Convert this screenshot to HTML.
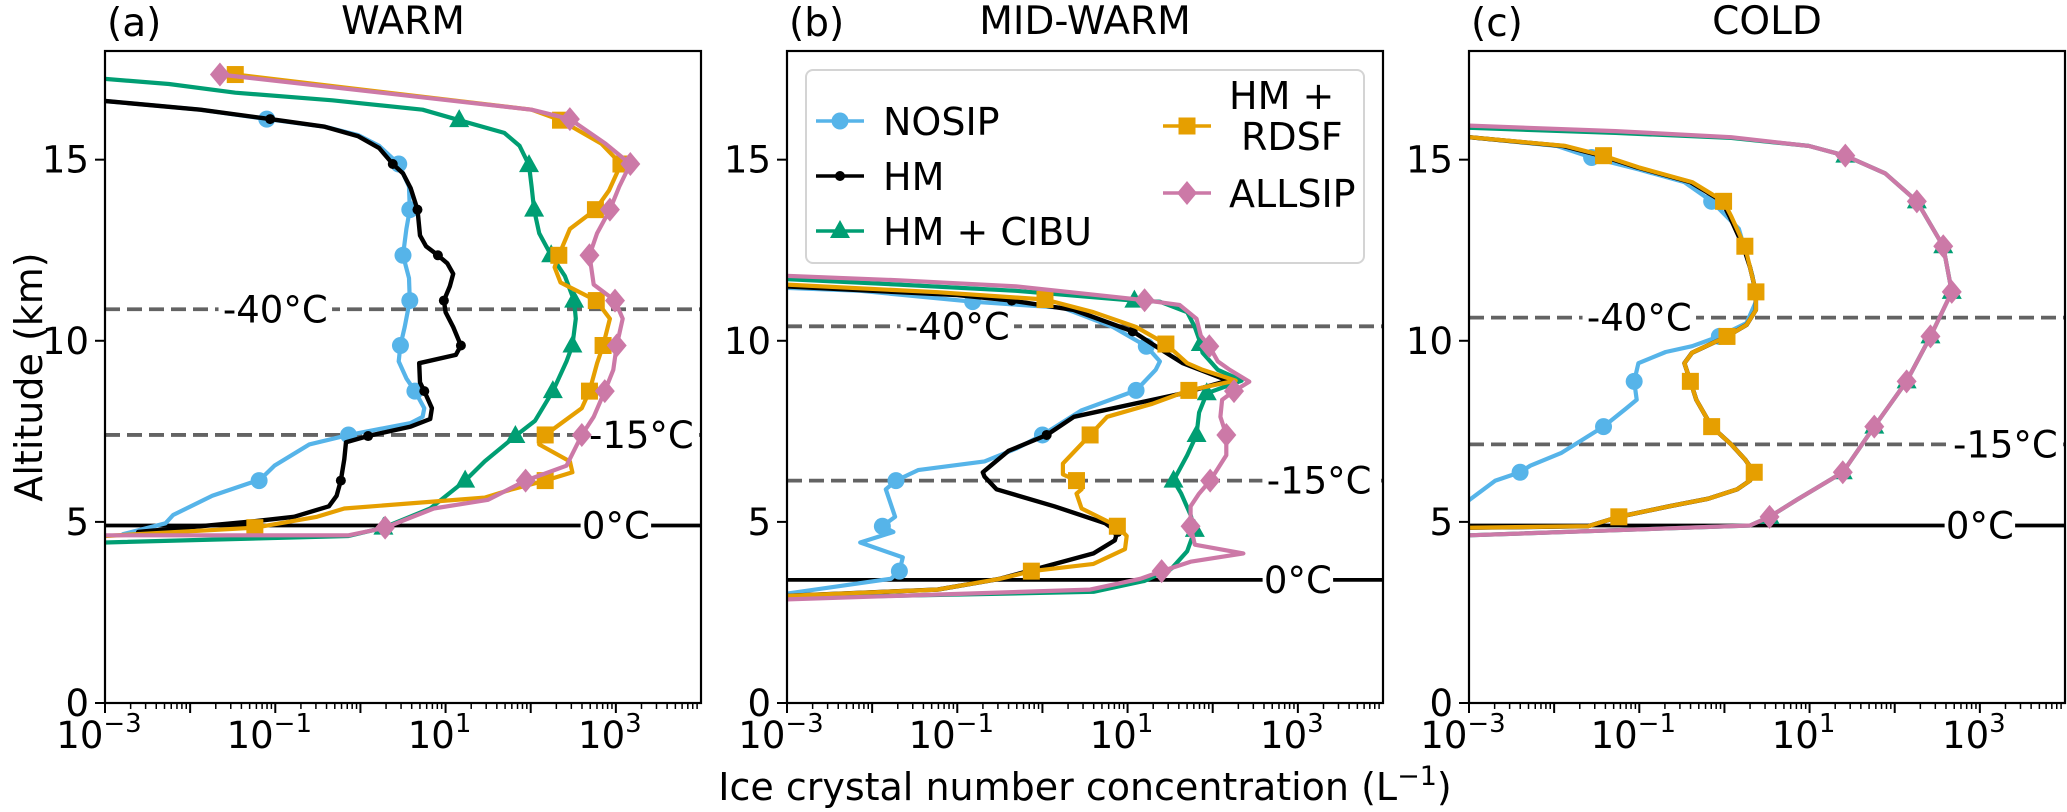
<!DOCTYPE html>
<html><head><meta charset="utf-8">
<style>
html,body{margin:0;padding:0;background:#fff;}
svg{display:block;font-family:"DejaVu Sans","Liberation Sans",sans-serif;}
</style></head>
<body>
<svg id="fig" width="2067" height="812" viewBox="0 0 2067 812" xmlns="http://www.w3.org/2000/svg">
<text x="0" y="0" font-size="38" text-anchor="middle" transform="translate(42,377) rotate(-90)">Altitude (km)</text>
<text x="1085" y="800" font-size="38" text-anchor="middle">Ice crystal number concentration (L<tspan dy="-15" font-size="27">−1</tspan><tspan dy="15">)</tspan></text>
</svg>
<script>
// ---- data (x values are log10 of concentration, y are altitude km) ----
const panelTitles = ["WARM", "MID-WARM", "COLD"];
const panelLetters = ["(a)", "(b)", "(c)"];
const xTickExps = [-3, -1, 1, 3];
const yTicks = [0, 5, 10, 15];
const seriesNames = ["NOSIP", "HM", "HM + CIBU", "HM + RDSF", "ALLSIP"];

// panel a
const aNosipX = [-2.79,-2.29,-2.20,-1.74,-1.29,-1.19,-1.01,-0.60,-0.14,0.59,0.73,0.75,0.64,0.54,0.45,0.47,0.52,0.58,0.57,0.50,0.54,0.58,0.57,0.45,0.22,-0.03,-0.42,-1.10,-1.88,-3.0];
const aNosipY = [4.66,4.96,5.19,5.72,6.08,6.14,6.55,7.14,7.40,7.73,7.90,8.14,8.61,8.96,9.43,9.87,10.38,11.11,11.73,12.36,13.09,13.62,14.26,14.88,15.38,15.68,15.91,16.12,16.38,16.62];
const aHmX = [-2.61,-1.24,-0.78,-0.37,-0.28,-0.23,-0.19,-0.17,0.09,0.59,0.82,0.84,0.75,0.70,0.69,1.12,1.18,1.09,1.00,0.98,1.05,1.09,1.02,0.91,0.77,0.70,0.67,0.59,0.50,0.38,0.22,-0.03,-0.42,-1.06,-1.88,-3.0];
const aHmY = [4.72,5.02,5.14,5.43,5.72,6.14,6.73,7.20,7.37,7.63,7.84,8.14,8.61,8.85,9.38,9.61,9.87,10.38,10.79,11.11,11.50,11.85,12.14,12.36,12.61,12.91,13.62,14.21,14.62,14.88,15.32,15.65,15.91,16.12,16.38,16.62];
const aCibuX = [-3.0,-0.14,0.27,0.82,1.23,1.46,1.82,2.05,2.26,2.42,2.49,2.53,2.51,2.40,2.24,2.10,2.04,2.01,1.98,1.87,1.69,1.16,0.73,-0.33,-1.47,-2.25,-3.0];
const aCibuY = [4.43,4.61,4.84,5.37,6.14,6.67,7.37,7.79,8.61,9.43,9.87,10.61,11.11,11.79,12.36,12.97,13.62,14.26,14.85,15.38,15.74,16.09,16.38,16.64,16.85,17.09,17.23];
const aRdsfX = [-3.0,-1.24,-0.51,-0.19,1.46,1.78,2.17,2.49,2.46,2.10,2.17,2.60,2.69,2.78,2.85,2.93,2.77,2.35,2.28,2.33,2.46,2.76,2.92,3.06,2.83,2.35,2.01,-1.47];
const aRdsfY = [4.61,4.84,5.14,5.37,5.67,5.90,6.14,6.37,6.67,7.14,7.40,8.14,8.61,9.38,9.87,10.61,11.11,11.61,12.03,12.36,13.09,13.62,14.15,14.88,15.44,16.09,16.38,17.35];
const aAllX = [-3.0,-0.14,0.29,0.86,1.50,1.94,2.42,2.60,2.74,2.87,2.97,3.01,3.08,2.99,2.74,2.69,2.78,2.93,3.04,3.17,2.88,2.46,2.01,-1.65];
const aAllY = [4.63,4.63,4.84,5.37,5.61,6.14,6.55,7.40,7.90,8.61,9.20,9.87,10.61,11.11,11.55,12.36,12.97,13.62,14.26,14.88,15.44,16.12,16.38,17.35];
const aMarks = [[5,8,12,15,17,19,21,23,27],[5,8,12,16,19,23,26,29,33],[2,4,6,8,10,12,14,16,18,21],[1,6,10,12,14,16,19,21,23,25,27],[2,5,7,9,11,13,15,17,19,21,23]];
// panel b
const bNosipX = [-3.0,-1.78,-1.68,-1.64,-2.14,-1.75,-1.88,-1.73,-1.84,-1.72,-1.46,-0.68,-0.31,0.0,0.46,1.10,1.33,1.38,1.22,0.83,0.24,-0.82,-2.14,-3.0];
const bNosipY = [3.02,3.43,3.64,4.02,4.43,4.72,4.88,5.14,5.90,6.14,6.43,6.67,7.02,7.40,8.08,8.63,9.20,9.43,9.85,10.38,10.91,11.08,11.38,11.46];
const bHmX = [-3.0,-1.23,-0.50,0.60,0.85,0.88,0.74,0.14,-0.54,-0.68,-0.70,-0.40,0.05,0.37,1.65,2.18,1.65,1.33,1.06,0.37,-0.36,-1.0,-3.0];
const bHmY = [2.96,3.13,3.43,4.13,4.49,4.72,4.96,5.43,5.90,6.25,6.37,6.96,7.40,7.90,8.55,8.90,9.38,9.85,10.26,10.85,11.11,11.26,11.50];
const bCibuX = [-3.0,0.60,1.20,1.52,1.70,1.79,1.74,1.63,1.54,1.70,1.81,1.84,1.93,2.34,2.06,1.88,1.86,1.79,1.70,1.38,1.08,-0.31,-1.68,-3.0];
const bCibuY = [2.90,3.07,3.37,3.72,4.19,4.78,5.19,5.78,6.14,6.84,7.40,8.02,8.55,8.90,9.20,9.67,9.91,10.38,10.79,11.08,11.11,11.38,11.55,11.70];
const bRdsfX = [-3.0,-1.23,-0.50,-0.13,0.60,0.97,0.99,0.88,0.46,0.40,0.46,0.40,0.24,0.24,0.56,0.76,1.29,1.72,2.27,1.88,1.70,1.45,1.10,0.60,0.03,-1.23,-3.0];
const bRdsfY = [2.96,3.13,3.43,3.64,3.84,4.25,4.61,4.88,5.37,5.78,5.90,6.14,6.31,6.61,7.40,7.90,8.26,8.63,8.90,9.20,9.38,9.91,10.38,10.79,11.14,11.34,11.55];
const bAllX = [-3.0,0.56,1.15,1.40,1.74,2.36,1.79,1.74,1.74,1.84,1.97,2.16,2.16,2.09,2.11,2.25,2.43,2.20,2.06,1.96,1.86,1.81,1.61,1.20,-0.31,-1.68,-3.0];
const bAllY = [2.86,3.13,3.43,3.64,3.90,4.13,4.37,4.88,5.43,5.78,6.14,6.84,7.40,7.90,8.37,8.61,8.87,9.20,9.43,9.85,10.14,10.61,10.99,11.12,11.50,11.67,11.79];
const bMarks = [[2,6,9,13,15,18,21],[5,12,18,20],[5,8,10,12,16,20],[3,7,11,14,17,21,24],[3,7,10,12,15,19,23]];
// panel c
const cNosipX = [-3.0,-2.69,-2.40,-2.28,-1.92,-1.42,-1.15,-1.03,-1.06,-1.01,-0.69,-0.38,-0.06,0.26,0.37,0.33,0.17,-0.15,-0.47,-1.01,-1.56,-1.97,-3.0];
const cNosipY = [5.60,6.14,6.37,6.55,6.90,7.63,8.14,8.37,8.88,9.38,9.69,9.85,10.12,10.49,11.08,11.79,13.09,13.85,14.38,14.73,15.06,15.38,15.62];
const cHmX = [-3.0,-1.60,-1.24,-0.65,-0.19,0.15,0.30,0.35,0.24,0.08,-0.15,-0.33,-0.40,-0.47,-0.38,0.03,0.26,0.37,0.37,0.30,0.22,0.06,-0.03,-0.40,-1.03,-1.45,-1.90,-3.0];
const cHmY = [4.84,4.88,5.14,5.43,5.64,5.90,6.14,6.37,6.73,7.14,7.63,8.37,8.88,9.38,9.67,10.12,10.44,10.85,11.35,12.03,12.61,13.44,13.85,14.38,14.79,15.11,15.38,15.62];
const cRdsfX = [-3.0,-1.60,-1.24,-0.65,-0.19,0.15,0.30,0.35,0.24,0.08,-0.15,-0.33,-0.40,-0.47,-0.38,0.03,0.26,0.37,0.37,0.30,0.24,0.08,-0.01,-0.38,-1.01,-1.42,-1.87,-3.0];
const cRdsfY = [4.84,4.88,5.14,5.43,5.64,5.90,6.14,6.37,6.73,7.14,7.63,8.37,8.88,9.38,9.67,10.12,10.44,10.85,11.35,12.03,12.61,13.44,13.85,14.38,14.79,15.11,15.38,15.62];
const cCibuX = [-3.0,0.30,0.53,0.85,1.39,1.76,2.14,2.42,2.67,2.57,2.26,1.89,1.42,0.99,0.08,-1.28,-3.0];
const cCibuY = [4.63,4.90,5.14,5.61,6.37,7.63,8.88,10.12,11.35,12.61,13.85,14.62,15.11,15.38,15.60,15.74,15.88];
const cAllX = [-3.0,0.30,0.53,0.85,1.39,1.76,2.14,2.42,2.67,2.57,2.26,1.89,1.42,0.99,0.08,-1.28,-3.0];
const cAllY = [4.63,4.90,5.14,5.61,6.37,7.63,8.88,10.12,11.35,12.61,13.85,14.62,15.11,15.38,15.62,15.79,15.94];
const cMarks = [[2,5,8,12,17,20],[],[2,4,5,6,7,8,9,10,12],[2,7,10,12,15,18,20,22,25],[2,4,5,6,7,8,9,10,12]];
// temperature reference lines (altitude km) and label positions (log10 x)
const isoAlt = [[10.87,7.40,4.90],[10.40,6.14,3.40],[10.64,7.14,4.90]];
const isoLabelX = [[-1.0,3.3,3.0],[-1.0,3.25,3.0],[-1.0,3.3,3.0]];
const isoLabels = ["-40°C","-15°C","0°C"];

const panelData = [
  [[aNosipX,aNosipY],[aHmX,aHmY],[aCibuX,aCibuY],[aRdsfX,aRdsfY],[aAllX,aAllY]],
  [[bNosipX,bNosipY],[bHmX,bHmY],[bCibuX,bCibuY],[bRdsfX,bRdsfY],[bAllX,bAllY]],
  [[cNosipX,cNosipY],[cHmX,cHmY],[cCibuX,cCibuY],[cRdsfX,cRdsfY],[cAllX,cAllY]]
];
const panelMarks = [aMarks,bMarks,cMarks];

// ---- layout ----
const NS = "http://www.w3.org/2000/svg";
const svg = document.getElementById("fig");
const panelLeft = [105, 787, 1469];
const PW = 596, PT = 51, PB = 703;
const XMIN = -3, XMAX = 4, YMIN = 0, YMAX = 18;
const colors = ["#56b4e9","#000000","#009e73","#e69f00","#cc79a7"];
const markerKinds = ["circle","dot","tri","square","diamond"];
const drawOrder = [0,1,2,3,4];

function mk(tag, attrs, parent){
  const e = document.createElementNS(NS, tag);
  for (const k in attrs) e.setAttribute(k, attrs[k]);
  (parent||svg).appendChild(e);
  return e;
}
function marker(kind, x, y, color, g){
  let e;
  if (kind==="circle") e = mk("circle",{cx:x,cy:y,r:8.5,fill:color},g);
  else if (kind==="dot") e = mk("circle",{cx:x,cy:y,r:5,fill:color},g);
  else if (kind==="tri") e = mk("polygon",{points:`${x},${y-11} ${x-10},${y+7} ${x+10},${y+7}`,fill:color},g);
  else if (kind==="square") e = mk("rect",{x:x-8.5,y:y-8.5,width:17,height:17,fill:color},g);
  else e = mk("polygon",{points:`${x},${y-12} ${x+10},${y} ${x},${y+12} ${x-10},${y}`,fill:color},g);
  return e;
}

panelData.forEach((series, p) => {
  const L = panelLeft[p];
  const xs = v => L + (v - XMIN) / (XMAX - XMIN) * PW;
  const ys = v => PB - (v - YMIN) / (YMAX - YMIN) * (PB - PT);
  const g = mk("g", {});
  
  
  const clipId = "clip" + p;
  const cp = mk("clipPath", {id: clipId}, g);
  mk("rect", {x: L, y: PT, width: PW, height: PB - PT}, cp);
  const plot = mk("g", {"clip-path": `url(#${clipId})`}, g);

  isoAlt[p].forEach((a, i) => {
    const y = ys(a);
    const ln = mk("line", {x1: L, x2: L + PW, y1: y, y2: y, stroke: i === 2 ? "#000" : "#636363", "stroke-width": 3.8, "stroke-dasharray": i === 2 ? "none" : "15,7"}, plot);
    
    
    const tx = xs(isoLabelX[p][i]);
    const w = isoLabels[i].length * 21.5;
    mk("rect", {x: tx - w / 2 - 3, y: y - 14, width: w + 6, height: 28, fill: "#fff"}, plot);
    const t = mk("text", {x: tx, y: y + 13, "font-size": 37, "text-anchor": "middle"}, plot);
    t.textContent = isoLabels[i];
    
    
  });

  drawOrder.forEach(s => {
    const [X, Y] = series[s];
    const pts = X.map((v, i) => `${xs(v).toFixed(1)},${ys(Y[i]).toFixed(1)}`).join(" ");
    const pl = mk("polyline", {points: pts, fill: "none", stroke: colors[s], "stroke-width": s === 1 ? 4.4 : 4.2, "stroke-linejoin": "round", "stroke-linecap": "round"}, plot);
    
    
    panelMarks[p][s].forEach(i => {
      if (i < X.length) {
        const m = marker(markerKinds[s], xs(X[i]), ys(Y[i]), colors[s], plot);
        
        
      }
    });
  });

  const fr = mk("rect", {x: L, y: PT, width: PW, height: PB - PT, fill: "none", stroke: "#000", "stroke-width": 2.2}, g);
  
  

  for (let d = XMIN; d < XMAX; d++) {
    for (let k = 1; k <= 9; k++) {
      const v = d + Math.log10(k);
      const x = xs(v);
      mk("line", {x1: x, x2: x, y1: PB, y2: PB + (k === 1 ? 10 : 6), stroke: "#000", "stroke-width": k === 1 ? 2 : 1.5}, g);
    }
  }
  xTickExps.forEach(e => {
    const t = mk("text", {x: xs(e) - 6, y: 748, "font-size": 37, "text-anchor": "middle"}, g);
    
    
    const s1 = mk("tspan", {}, t); s1.textContent = "10";
    const s2 = mk("tspan", {dy: -16, "font-size": 26}, t); s2.textContent = (e < 0 ? "−" : "") + Math.abs(e);
  });
  yTicks.forEach(v => {
    const y = ys(v);
    mk("line", {x1: L - 10, x2: L, y1: y, y2: y, stroke: "#000", "stroke-width": 2}, g);
    const t = mk("text", {x: L - 16, y: y + 13, "font-size": 37, "text-anchor": "end"}, g);
    t.textContent = v;
    
    
  });

  const ti = mk("text", {x: L + PW / 2, y: 34, "font-size": 39, "text-anchor": "middle"}, g);
  ti.textContent = panelTitles[p];
  
  
  const le = mk("text", {x: L + 2, y: 36, "font-size": 39}, g);
  le.textContent = panelLetters[p];
  
  
});

const lg = mk("g", {});


mk("rect", {x: 806, y: 70, width: 558, height: 193, rx: 7, fill: "#fff", "fill-opacity": 0.85, stroke: "#d4d4d4", "stroke-width": 2}, lg);
const legPos = [[840, 121], [840, 176], [840, 231], [1187, 126], [1187, 193]];
const legText = [["NOSIP"], ["HM"], ["HM + CIBU"], ["HM +", "RDSF"], ["ALLSIP"]];
legPos.forEach((pos, s) => {
  const [x, y] = pos;
  const item = mk("g", {}, lg);
  
  
  mk("line", {x1: x - 24, x2: x + 24, y1: y, y2: y, stroke: colors[s], "stroke-width": 3.5}, item);
  marker(markerKinds[s], x, y, colors[s], item);
  if (legText[s].length === 1) {
    const t = mk("text", {x: 883, y: y + 14, "font-size": 38}, item);
    if (s >= 3) t.setAttribute("x", 1229);
    t.textContent = legText[s][0];
  } else {
    const t1 = mk("text", {x: 1229, y: 109, "font-size": 38}, item); t1.textContent = legText[s][0];
    const t2 = mk("text", {x: 1241, y: 150, "font-size": 38}, item); t2.textContent = legText[s][1];
  }
});
</script>
</body></html>
